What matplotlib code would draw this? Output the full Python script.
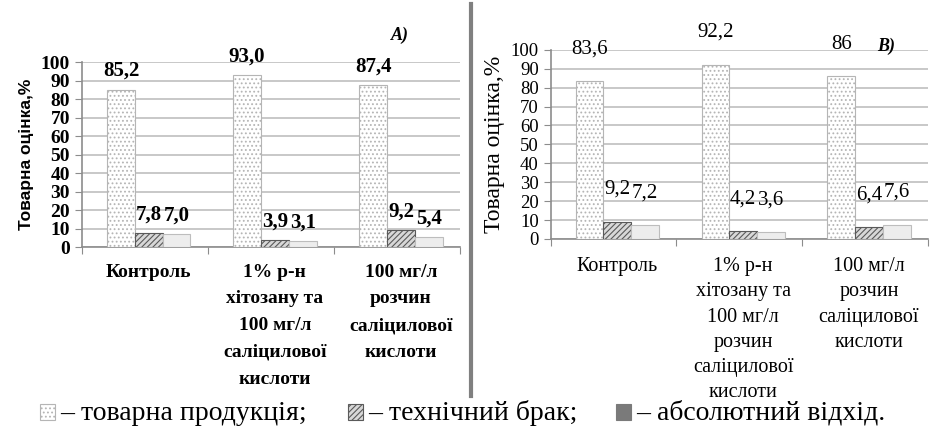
import matplotlib.pyplot as plt
from matplotlib.patches import Rectangle
from matplotlib.lines import Line2D

SERIF = ['Liberation Serif', 'DejaVu Serif']
plt.rcParams['font.family'] = SERIF
plt.rcParams['hatch.linewidth'] = 0.8

# Дані для двох діаграм
categories_a = ['Контроль', '1% р-н\nхітозану та\n100 мг/л\nсаліцилової\nкислоти',
                '100 мг/л\nрозчин\nсаліцилової\nкислоти']
categories_b = ['Контроль', '1% р-н\nхітозану та\n100 мг/л\nрозчин\nсаліцилової\nкислоти',
                '100 мг/л\nрозчин\nсаліцилової\nкислоти']

product_a = [85.2, 93.0, 87.4]
defect_a = [7.8, 3.9, 9.2]
waste_a = [7.0, 3.1, 5.4]
labels_a = [['85,2', '93,0', '87,4'], ['7,8', '3,9', '9,2'], ['7,0', '3,1', '5,4']]

product_b = [83.6, 92.2, 86]
defect_b = [9.2, 4.2, 6.4]
waste_b = [7.2, 3.6, 7.6]
labels_b = [['83,6', '92,2', '86'], ['9,2', '4,2', '6,4'], ['7,2', '3,6', '7,6']]

legend_items = ['– товарна продукція;', '– технічний брак;', '– абсолютний відхід.']

styles = [
    dict(facecolor='white', edgecolor='#b5b5b5', hatch='....'),
    dict(facecolor='#d8d8d8', edgecolor='#5a5a5a', hatch='//////'),
    dict(facecolor='#ededed', edgecolor='#bdbdbd', hatch=''),
]

fig = plt.figure(figsize=(9.3, 4.26), dpi=100)


def draw_panel(ax, cats, series, labels, offset, bold, tick_fs, lab_fs, xlab_fs,
               spacing, xlab_y):
    weight = 'bold' if bold else 'normal'
    w = 0.22
    x = list(range(len(cats)))
    for k, vals in enumerate(series):
        pos = [i + (k - 1) * w + 0.03 for i in x]
        ax.bar(pos, vals, width=w, linewidth=0.8, zorder=3, **styles[k])
        for p, v, t in zip(pos, vals, labels[k]):
            ax.text(p, v + offset, t, ha='center', va='center', fontsize=lab_fs,
                    fontweight=weight, family=SERIF, clip_on=False, zorder=4)
    ax.set_xlim(-0.5, len(cats) - 0.5)
    ax.set_ylim(0, 100)
    ax.set_yticks(range(0, 101, 10))
    ax.yaxis.grid(True, color='#c8c8c8', linewidth=1.4, zorder=0)
    ax.set_axisbelow(True)
    for s in ['top', 'right']:
        ax.spines[s].set_visible(False)
    for s in ['left', 'bottom']:
        ax.spines[s].set_color('#8c8c8c')
        ax.spines[s].set_linewidth(1.2)
    ax.tick_params(axis='y', colors='#8c8c8c', length=5, labelsize=tick_fs,
                   labelcolor='black')
    for t in ax.get_yticklabels():
        t.set_fontweight(weight)
        t.set_family(SERIF)
    ax.set_xticks([-0.5, 0.5, 1.5, 2.5])
    ax.set_xticklabels([])
    ax.tick_params(axis='x', colors='#8c8c8c', length=5)
    for i, c in enumerate(cats):
        ax.text(i + 0.03, xlab_y, c, transform=ax.get_xaxis_transform(), ha='center',
                va='top', fontsize=xlab_fs, fontweight=weight, family=SERIF,
                linespacing=spacing)


ax_a = fig.add_axes([0.088, 0.420, 0.407, 0.434])
draw_panel(ax_a, categories_a, [product_a, defect_a, waste_a], labels_a,
           10, True, 14, 15, 14, 1.75, -0.09)
ax_a.set_ylabel('Товарна оцінка,%', fontsize=12.5, fontweight='bold',
                family=['Liberation Sans', 'DejaVu Sans'], labelpad=5)
ax_a.text(0.84, 1.146, 'A)', transform=ax_a.transAxes, fontsize=13,
          fontweight='bold', style='italic', family=SERIF, ha='center', va='center')

ax_b = fig.add_axes([0.592, 0.439, 0.406, 0.444])
draw_panel(ax_b, categories_b, [product_b, defect_b, waste_b], labels_b,
           17, False, 13.5, 15, 14.5, 1.45, -0.095)
ax_b.set_ylabel('Товарна оцінка,%', fontsize=17, family=SERIF, labelpad=4)
ax_b.text(0.89, 1.02, 'B)', transform=ax_b.transAxes, fontsize=13,
          fontweight='bold', style='italic', family=SERIF, ha='center', va='center')

# вертикальна розділова лінія
fig.add_artist(Line2D([0.506, 0.506], [0.07, 0.99], color='#808080', linewidth=3))

# підпис-легенда внизу
leg_x = [40 / 930, 348 / 930, 616 / 930]
leg_fill = [styles[0], styles[1], dict(facecolor='#7a7a7a', edgecolor='#7a7a7a', hatch='')]
for lx, txt, st in zip(leg_x, legend_items, leg_fill):
    fig.add_artist(Rectangle((lx, 6 / 426), 15 / 930, 16 / 426, linewidth=0.8, **st))
    fig.text(lx + 20 / 930, 13 / 426, txt, fontsize=20, family=SERIF,
             va='center', ha='left')

fig.savefig('out.png', dpi=100)
